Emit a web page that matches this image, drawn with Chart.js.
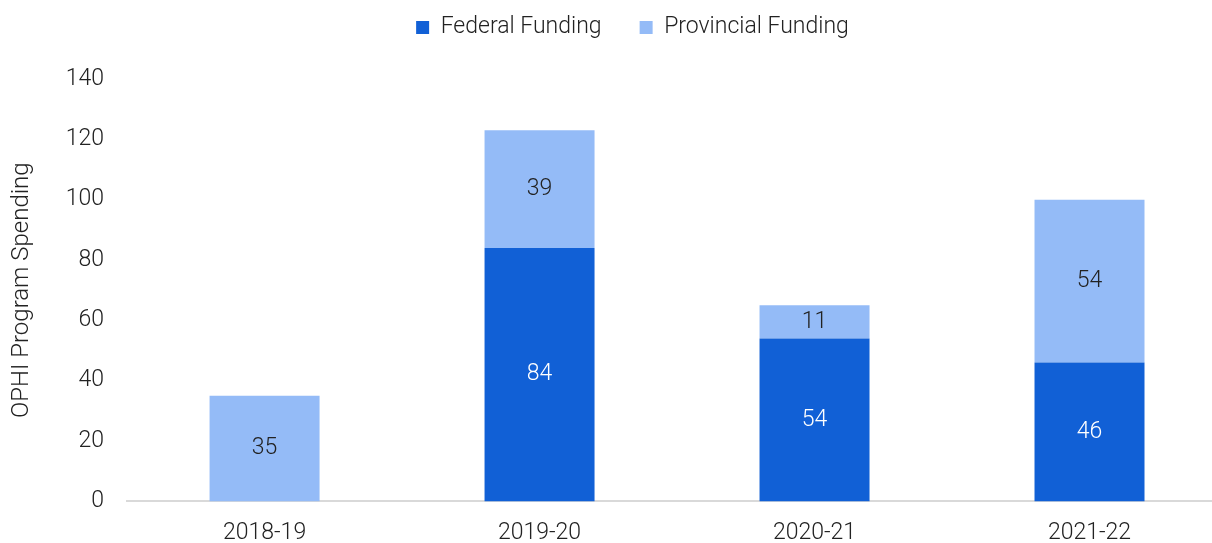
<!DOCTYPE html>
<html>
<head>
<meta charset="utf-8">
<script src="https://cdn.jsdelivr.net/npm/chart.js@4/dist/chart.umd.min.js"></script>
<style>
  body { margin: 0; background: #fff; overflow: hidden; }
  #wrap { width: 1250px; height: 543px; }
</style>
</head>
<body>
<div id="wrap"><canvas id="myChart"></canvas></div>
<script>
var labels = ['2018-19', '2019-20', '2020-21', '2021-22'];
var federal = [0, 84, 54, 46];
var provincial = [35, 39, 11, 54];
var yTicks = [0, 20, 40, 60, 80, 100, 120, 140];

var fontFamily = 'Roboto, "Liberation Sans", sans-serif';

// draw the value inside each bar segment, and nudge the legend into place
var barLabels = {
  id: 'barLabels',
  afterUpdate(chart) {
    var lg = chart.legend;
    if (lg) {
      lg.top -= 30;
      lg.left += 15;
      lg.right += 15;
    }
  },
  afterDatasetsDraw(chart) {
    var ctx = chart.ctx;
    ctx.save();
    ctx.font = '300 23px ' + fontFamily;
    ctx.textAlign = 'center';
    ctx.textBaseline = 'middle';
    chart.data.datasets.forEach((ds, i) => {
      var meta = chart.getDatasetMeta(i);
      meta.data.forEach((bar, j) => {
        var v = ds.data[j];
        if (!v) return;
        ctx.fillStyle = i === 0 ? '#ffffff' : '#222222';
        ctx.fillText(v, bar.x, (bar.y + bar.base) / 2);
      });
    });
    ctx.restore();
  }
};

var ctx = document.getElementById('myChart').getContext('2d');
var myChart = new Chart(ctx, {
  type: 'bar',
  data: {
    labels: labels,
    datasets: [
      { label: 'Federal Funding', data: federal, backgroundColor: '#1160D6' },
      { label: 'Provincial Funding', data: provincial, backgroundColor: '#94BBF7' }
    ]
  },
  options: {
    responsive: true,
    maintainAspectRatio: false,
    animation: false,
    barPercentage: 0.4,
    categoryPercentage: 1,
    layout: { padding: { top: 8, right: 23, left: 8, bottom: -14 } },
    plugins: {
      tooltip: { enabled: false },
      legend: {
        position: 'top',
        labels: {
          boxWidth: 13,
          boxHeight: 13,
          padding: 38,
          color: '#222',
          font: { family: fontFamily, size: 23, weight: '300' }
        }
      }
    },
    scales: {
      x: {
        stacked: true,
        grid: { display: false },
        border: { color: '#d9d9d9', width: 2 },
        ticks: { color: '#222', padding: 10, font: { family: fontFamily, size: 23, weight: '300' } }
      },
      y: {
        stacked: true,
        min: 0,
        max: 140,
        afterBuildTicks: axis => { axis.ticks = yTicks.map(v => ({ value: v })); },
        grid: { display: false },
        border: { display: false },
        ticks: { color: '#222', padding: 15, font: { family: fontFamily, size: 23, weight: '300' } },
        title: {
          display: true,
          text: 'OPHI Program Spending',
          color: '#222',
          padding: { top: 0, bottom: 14 },
          font: { family: fontFamily, size: 24, weight: '300' }
        }
      }
    }
  },
  plugins: [barLabels]
});
</script>
</body>
</html>
